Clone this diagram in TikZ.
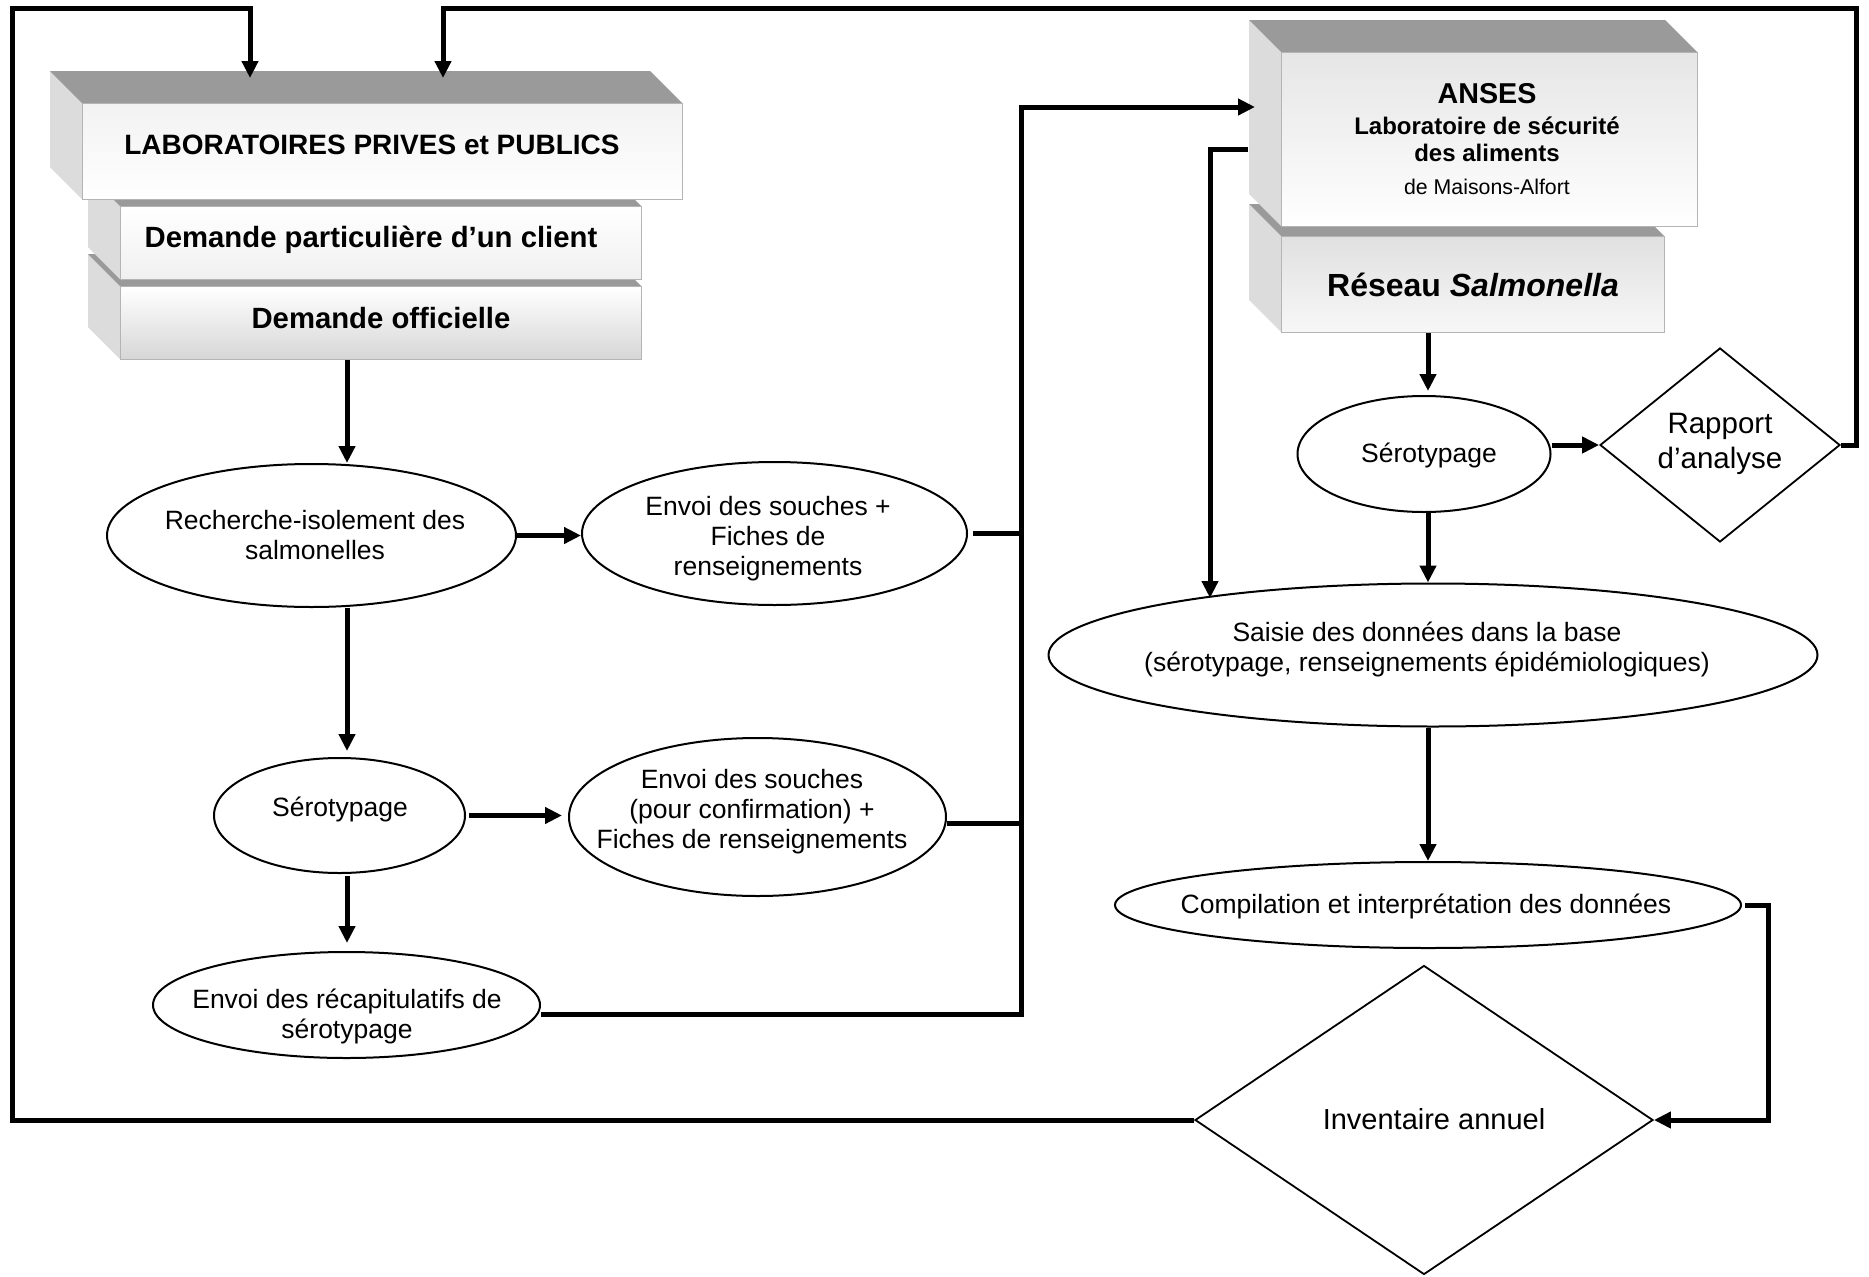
\documentclass[tikz,border=0pt]{standalone}
\usepackage{fontspec}
\setmainfont{Liberation Sans}
\usetikzlibrary{shapes.geometric,arrows.meta,calc}
\definecolor{topface}{HTML}{9A9A9A}
\definecolor{sideface}{HTML}{DCDCDC}
\definecolor{frontedge}{HTML}{B4B4B4}
\tikzset{
  conn/.style={line width=5pt, line join=miter},
  arr/.style={conn, -{Triangle[length=17pt,width=16pt]}},
  oval/.style={ellipse, draw, line width=2pt, inner sep=0pt},
  rhomb/.style={diamond, draw, line width=1.8pt, inner sep=0pt},
  body/.style={font=\fontsize{26.5}{30}\selectfont, align=center, inner sep=0pt},
  front/.style={rectangle, draw=frontedge, line width=1.2pt, inner sep=0pt, anchor=north west},
  boxtext/.style={align=center, inner sep=0pt},
}
\newcommand{\cubebox}[7]{%
  \fill[sideface] (#2-32,#3-32) -- (#2,#3) -- (#2,#5) -- (#2-32,#5-32) -- cycle;
  \fill[topface] (#2-32,#3-32) -- (#4-32,#3-32) -- (#4,#3) -- (#2,#3) -- cycle;
  \node[front, top color=#6, bottom color=#7, minimum width={#4-#2}, minimum height={#5-#3}] (#1) at (#2,#3) {};
}
\begin{document}
\begin{tikzpicture}[x=1pt,y=-1pt]
\useasboundingbox (0,0) rectangle (1869,1277);
\fill[white] (0,0) rectangle (1869,1277);

% 3D boxes
\cubebox{off}{120}{286}{641}{359}{white}{gray!32}
\cubebox{part}{120}{206}{641}{279}{white}{gray!12}
\cubebox{labo}{82}{103}{682}{199}{gray!10}{white}
\cubebox{res}{1281}{236}{1664}{332}{gray!24}{gray!6}
\cubebox{anses}{1281}{52}{1697}{226}{gray!20}{white}

\node[boxtext, font=\bfseries\fontsize{28}{32}\selectfont] (laboT) at (372,145) {LABORATOIRES PRIVES et PUBLICS};
\node[boxtext, font=\bfseries\fontsize{29.3}{32}\selectfont] (partT) at (371,240) {Demande particulière d’un client};
\node[boxtext, font=\bfseries\fontsize{29.3}{32}\selectfont] (offT) at (381,318) {Demande officielle};
\node[boxtext, font=\bfseries\fontsize{28.7}{32}\selectfont] (ansesT) at (1487,94) {ANSES};
\node[boxtext, font=\bfseries\fontsize{24}{27}\selectfont] (labT) at (1487,139) {Laboratoire de sécurité\\des aliments};
\node[boxtext, font=\fontsize{21.3}{24}\selectfont] (maisT) at (1487,187) {de Maisons-Alfort};
\node[boxtext, font=\bfseries\fontsize{32}{36}\selectfont] (resT) at (1473,285) {Réseau \textit{Salmonella}};

% ellipses and diamonds
\node[oval, minimum width=409, minimum height=143] (rech) at (311.5,535.5) {};
\node[body] (rechT) at (315,535) {Recherche-isolement des\\salmonelles};
\node[oval, minimum width=385, minimum height=143] (env1) at (774.5,533.5) {};
\node[body] (env1T) at (768,538.5) {Envoi des souches +\\Fiches de\\renseignements};
\node[oval, minimum width=251, minimum height=115] (ser1) at (339.5,815.5) {};
\node[body] (ser1T) at (340,809) {Sérotypage};
\node[oval, minimum width=377, minimum height=158] (env2) at (757.5,817) {};
\node[body] (env2T) at (752,811.5) {Envoi des souches\\(pour confirmation) +\\Fiches de renseignements};
\node[oval, minimum width=387, minimum height=106] (recap) at (346.5,1005) {};
\node[body] (recapT) at (347,1016) {Envoi des récapitulatifs de\\sérotypage};
\node[oval, minimum width=253, minimum height=116] (ser2) at (1424,454) {};
\node[body] (ser2T) at (1429,455) {Sérotypage};
\node[oval, minimum width=769, minimum height=143] (sais) at (1433,655) {};
\node[body] (saisT) at (1427,649) {Saisie des données dans la base\\(sérotypage, renseignements épidémiologiques)};
\node[oval, minimum width=626, minimum height=86] (comp) at (1428,905) {};
\node[body] (compT) at (1426,906) {Compilation et interprétation des données};
\node[rhomb, minimum width=240, minimum height=194] (rap) at (1720,445) {};
\node[body, font=\fontsize{29.5}{35}\selectfont] (rapT) at (1720,444) {Rapport\\d’analyse};
\node[rhomb, minimum width=458, minimum height=309] (inv) at (1424,1120) {};
\node[body, font=\fontsize{29}{33}\selectfont] (invT) at (1434,1119) {Inventaire annuel};

% helper coordinates
\coordinate (colL) at (347,0);
\coordinate (colR) at (1428,0);
\coordinate (bus) at (1021,0);
\coordinate (colS) at (1210,0);
\coordinate (in1) at (250,78);
\coordinate (in2) at (443,78);
\coordinate (ansIn) at (1255,107);
\coordinate (ansOut) at (1248,149);
\coordinate (saisIn) at (1210,598);

% connectors, left part
\draw[arr] (off.south -| colL) -- (rech.north -| colL);
\draw[arr] (rech.east) -- (rech.east -| env1.west);
\draw[conn, shorten <=5pt] (env1.east) -- (env1.east -| bus);
\draw[arr, shorten >=6pt] (rech.south -| colL) -- (ser1.north -| colL);
\draw[arr, shorten <=3pt, shorten >=6pt] (ser1.east) -- (ser1.east -| env2.west);
\draw[conn] ([yshift=-6pt]env2.east) -- ([yshift=-6pt]env2.east -| bus);
\draw[arr, shorten <=2pt, shorten >=8pt] (ser1.south -| colL) -- (recap.north -| colL);
\draw[arr] ([yshift=-9pt]recap.east) -- ([yshift=-9pt]recap.east -| bus) -- (bus |- ansIn) -- (ansIn);

% connectors, right part
\draw[arr, shorten >=4pt] (res.south -| colR) -- (ser2.north -| colR);
\draw[arr] (ser2.east |- rap.west) -- (rap.west);
\draw[arr] (ser2.south -| colR) -- (sais.north -| colR);
\draw[arr] (ansOut) -- (ansOut -| colS) -- (saisIn);
\draw[arr] (sais.south -| colR) -- (comp.north -| colR);
\draw[arr, shorten <=3pt] (comp.east) -- ++(26,0) |- (inv.east);

% outer feedback loops
\draw[arr] (inv.west) -- (12,1120) -- (12,8) -- (250,8) -- (in1);
\draw[arr] (rap.east) -- (1856,445) -- (1856,8) -- (443,8) -- (in2);
\end{tikzpicture}
\end{document}
